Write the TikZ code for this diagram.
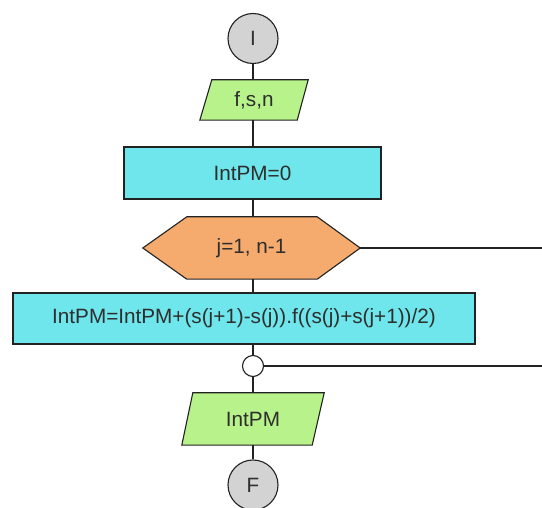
\documentclass[tikz,border=0pt]{standalone}
\usepackage{fontspec}
\setmainfont{Liberation Sans}
\usetikzlibrary{backgrounds}
\definecolor{cgray}{HTML}{D3D3D3}
\definecolor{cgreen}{HTML}{B8F28A}
\definecolor{ccyan}{HTML}{6EE6EB}
\definecolor{corange}{HTML}{F5AA6E}
\definecolor{ctext}{HTML}{2E2E2E}
\definecolor{cline}{HTML}{222222}
\tikzset{
  lbl/.style={font=\fontsize{20.7}{24}\selectfont, text=ctext, inner sep=0pt},
  term/.style={lbl, circle, draw=cline, fill=cgray, line width=1.1pt, minimum size=50pt},
  procbox/.style={lbl, rectangle, draw=cline, fill=ccyan, line width=1.1pt},
  iobox/.style={lbl, rectangle, minimum height=#1},
  conn/.style={draw=cline, line width=1.1pt},
}
\begin{document}
\begin{tikzpicture}[x=1pt,y=-1pt]
\useasboundingbox (0,0) rectangle (542,508);
\coordinate (rightend) at (542,0);
% terminals
\node[term] (start) at (253,38.5) {I};
\node[term] (stop) at (253,485) {F};
% input
\node[iobox=40pt, minimum width=108pt] (in) at (254,100) {f,s,n};
% init
\node[procbox, minimum width=257pt, minimum height=52pt] (init) at (252.5,173) {IntPM=0};
% loop hexagon
\node[lbl, minimum width=217pt, minimum height=62pt] (loop) at (251.5,248) {j=1, n-1};
% body
\node[procbox, minimum width=462pt, minimum height=51pt] (body) at (244,318.5) {IntPM=IntPM+(s(j+1)-s(j)).f((s(j)+s(j+1))/2)};
% join
\node[circle, draw=cline, fill=white, line width=1.1pt, minimum size=21pt, inner sep=0pt] (join) at (253,366) {};
% output
\node[iobox=52pt, minimum width=142pt] (out) at (253,419) {IntPM};
\begin{scope}[on background layer]
  \fill[white] (0,0) rectangle (542,508);
  % input parallelogram
  \filldraw[fill=cgreen, draw=cline, line width=1.1pt]
    ([xshift=12pt]in.north west) -- (in.north east) -- ([xshift=-11pt]in.south east) -- (in.south west) -- cycle;
  % output parallelogram
  \filldraw[fill=cgreen, draw=cline, line width=1.1pt]
    ([xshift=11pt]out.north west) -- (out.north east) -- ([xshift=-12pt]out.south east) -- (out.south west) -- cycle;
  % hexagon
  \filldraw[fill=corange, draw=cline, line width=1.1pt]
    (loop.west) -- ([xshift=44pt]loop.north west) -- ([xshift=-43pt]loop.north east) -- (loop.east)
    -- ([xshift=-43pt]loop.south east) -- ([xshift=44pt]loop.south west) -- cycle;
  % connectors
  \draw[conn] (start) -- (start |- in.north);
  \draw[conn] (start |- in.south) -- (start |- init.north);
  \draw[conn] (start |- init.south) -- (start |- loop.north);
  \draw[conn] (start |- loop.south) -- (start |- body.north);
  \draw[conn] (start |- body.south) -- (join);
  \draw[conn] (join) -- (start |- out.north);
  \draw[conn] (start |- out.south) -- (stop);
  \draw[conn] (loop.east) -- (loop.east -| rightend);
  \draw[conn] (join.east) -- (join.east -| rightend);
\end{scope}
\end{tikzpicture}
\end{document}
